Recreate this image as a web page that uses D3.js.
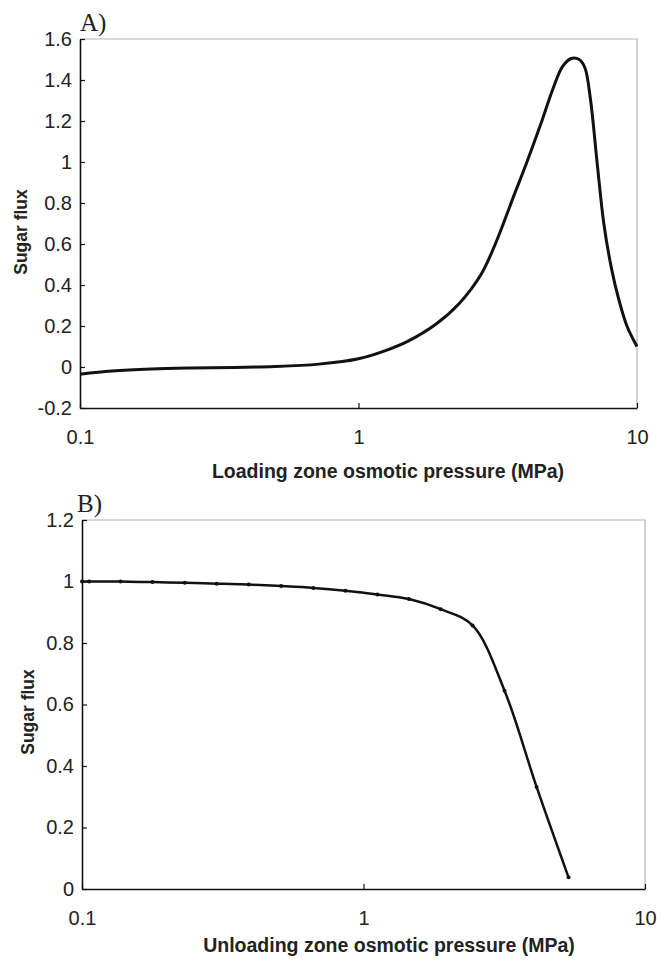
<!DOCTYPE html>
<html>
<head>
<meta charset="utf-8">
<script src="https://cdn.jsdelivr.net/npm/d3@7"></script>
<style>
  body { margin: 0; background: #fff; }
  svg { display: block; }
  .axis-title { font-family: "Liberation Sans", Arial, sans-serif; font-weight: bold; fill: #222; }
  .panel-label { font-family: "Liberation Serif", "Times New Roman", serif; font-size: 25px; fill: #222; }
</style>
</head>
<body>
<svg></svg>
<script>
// panel A: loading zone
const loadingPressure = [0.1, 0.13, 0.18, 0.25, 0.36, 0.5, 0.72, 1.0, 1.25, 1.5, 1.9, 2.3, 2.75, 3.1, 3.6, 4.0, 4.5, 5.0, 5.4, 5.8, 6.2, 6.5, 6.8, 7.2, 7.6, 8.1, 8.6, 9.2, 10];
const loadingFlux = [-0.035, -0.02, -0.01, -0.005, -0.002, 0.002, 0.014, 0.04, 0.08, 0.125, 0.21, 0.31, 0.45, 0.6, 0.83, 0.99, 1.18, 1.36, 1.465, 1.505, 1.5, 1.46, 1.31, 0.99, 0.7, 0.48, 0.33, 0.2, 0.1];

// panel B: unloading zone
const unloadingPressure = [0.1, 0.106, 0.137, 0.178, 0.232, 0.301, 0.391, 0.51, 0.663, 0.862, 1.12, 1.45, 1.88, 2.44, 3.17, 4.12, 5.35];
const unloadingFlux = [1.0, 1.0, 1.0, 0.998, 0.996, 0.993, 0.99, 0.985, 0.979, 0.97, 0.958, 0.943, 0.91, 0.857, 0.645, 0.332, 0.038];

const xTicks = [0.1, 1, 10];
const yTicksA = [-0.2, 0, 0.2, 0.4, 0.6, 0.8, 1, 1.2, 1.4, 1.6];
const yTicksB = [0, 0.2, 0.4, 0.6, 0.8, 1, 1.2];

const svg = d3.select('svg')
	.attr('width', 665)
	.attr('height', 962);

const panels = [
	{
		label: 'A)', xs: loadingPressure, ys: loadingFlux, yTicks: yTicksA, yDomain: [-0.2, 1.6],
		left: 80, right: 637, top: 39, bottom: 408,
		title: 'Loading zone osmotic pressure (MPa)', titleX: 388, titleY: 478,
		yTitleX: 21, yTitleY: 232, labelX: 80, labelY: 31,
		lineWidth: 3, markers: false
	},
	{
		label: 'B)', xs: unloadingPressure, ys: unloadingFlux, yTicks: yTicksB, yDomain: [0, 1.2],
		left: 82, right: 645, top: 520, bottom: 889,
		title: 'Unloading zone osmotic pressure (MPa)', titleX: 389, titleY: 952,
		yTitleX: 28, yTitleY: 712, labelX: 77, labelY: 512,
		lineWidth: 2.5, markers: true
	}
];

panels.forEach(p => {
	const xScale = d3.scaleLog()
		.domain([0.1, 10])
		.range([p.left, p.right]);

	const yScale = d3.scaleLinear()
		.domain(p.yDomain)
		.range([p.bottom, p.top]);

	const data = p.xs.map((x, i) => ({ x, y: p.ys[i] }));

	const g = svg.append('g');

	// grey frame on top and right
	g.append('path')
		.attr('d', `M${xScale.range()[0]},${yScale.range()[1]}H${xScale.range()[1]}V${yScale.range()[0]}`)
		.attr('fill', 'none')
		.attr('stroke', '#b3b3b3')
		.attr('stroke-width', 1.2);

	const yAxis = d3.axisLeft(yScale)
		.tickValues(p.yTicks)
		.tickFormat(d => String(d))
		.tickSizeInner(-5)
		.tickSizeOuter(0)
		.tickPadding(8);

	const xAxis = d3.axisBottom(xScale)
		.tickValues(xTicks)
		.tickFormat(d => String(d))
		.tickSizeInner(-5)
		.tickSizeOuter(0)
		.tickPadding(22);

	const yAxisG = g.append('g')
		.attr('transform', `translate(${p.left},0)`)
		.call(yAxis);

	const xAxisG = g.append('g')
		.attr('transform', `translate(0,${p.bottom})`)
		.call(xAxis);

	[yAxisG, xAxisG].forEach(a => {
		a.attr('font-family', 'Liberation Sans, Arial, sans-serif').attr('font-size', 20);
		a.select('.domain').attr('stroke', '#111').attr('stroke-width', 1.6);
		a.selectAll('.tick line').attr('stroke', '#111').attr('stroke-width', 1.2);
		a.selectAll('.tick text').attr('fill', '#222');
	});

	const line = d3.line()
		.x(d => xScale(d.x))
		.y(d => yScale(d.y))
		.curve(d3.curveCatmullRom.alpha(0.5));

	g.append('path')
		.attr('d', line(data))
		.attr('fill', 'none')
		.attr('stroke', '#111')
		.attr('stroke-width', p.lineWidth)
		.attr('stroke-linejoin', 'round');

	if (p.markers) {
		g.selectAll('.marker')
			.data(data)
			.join('circle')
			.attr('class', 'marker')
			.attr('cx', d => xScale(d.x))
			.attr('cy', d => yScale(d.y))
			.attr('r', 2)
			.attr('fill', '#111');
	}

	g.append('text')
		.attr('class', 'axis-title')
		.attr('x', p.titleX)
		.attr('y', p.titleY)
		.attr('text-anchor', 'middle')
		.attr('font-size', 19.5)
		.text(p.title);

	g.append('text')
		.attr('class', 'axis-title')
		.attr('transform', `translate(${p.yTitleX},${p.yTitleY}) rotate(-90)`)
		.attr('text-anchor', 'middle')
		.attr('dy', '0.35em')
		.attr('font-size', 17.5)
		.text('Sugar flux');

	g.append('text')
		.attr('class', 'panel-label')
		.attr('x', p.labelX)
		.attr('y', p.labelY)
		.text(p.label);
});
</script>
</body>
</html>
